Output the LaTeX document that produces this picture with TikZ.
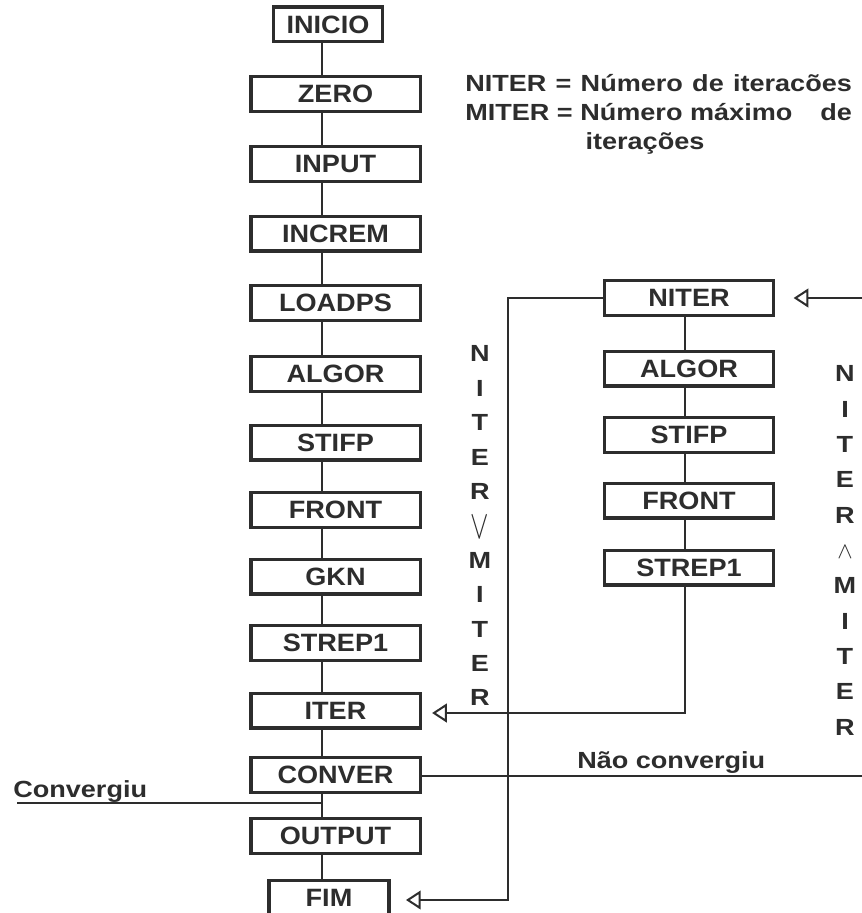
\documentclass[tikz,border=0pt]{standalone}
\usepackage{fontspec}
\usepackage{graphicx}
\newfontfamily\dfont{Liberation Sans}[FakeStretch=1.08]
\newfontfamily\lfont{Liberation Sans}[FakeStretch=1.16]
\usetikzlibrary{arrows.meta}
\definecolor{ink}{RGB}{45,45,45}
\newcommand{\orsym}{\raisebox{-3.8pt}{\scalebox{1.2}[1.75]{$\vee$}}}
\newcommand{\andsym}{$\wedge$}
\begin{document}
\begin{tikzpicture}[x=0.75pt,y=-0.75pt,
  box/.style={draw=ink, line width=2.5pt, minimum width=127pt, minimum height=26pt,
    inner sep=0pt, text=ink, font=\dfont\bfseries\fontsize{18.8}{20}\selectfont},
  conn/.style={draw=ink, line width=1.5pt},
  tip/.style={-{Triangle[open, length=11pt, width=14pt, line width=1.5pt]}},
  lbl/.style={text=ink, font=\lfont\bfseries\fontsize{17.5}{20}\selectfont, inner sep=0pt},
  vl/.style={lbl, text height=12.5pt, text depth=0pt, anchor=center}
]
\useasboundingbox (0,0) rectangle (862,913);
\fill[white] (0,0) rectangle (862,913);

% guide coordinates
\coordinate (lx) at (322,0);
\coordinate (rx) at (685,0);

% left column
\node[box, minimum width=82pt] (inicio) at (328,24.5) {INICIO};
\node[box] (zero)   at (335.5,94)  {ZERO};
\node[box] (input)  at (335.5,164) {INPUT};
\node[box] (increm) at (335.5,233.5) {INCREM};
\node[box] (loadps) at (335.5,303) {LOADPS};
\node[box] (algor)  at (335.5,374) {ALGOR};
\node[box] (stifp)  at (335.5,442.5) {STIFP};
\node[box] (front)  at (335.5,510) {FRONT};
\node[box] (gkn)    at (335.5,576.5) {GKN};
\node[box] (strep)  at (335.5,643) {STREP1};
\node[box] (iter)   at (335.5,710.5) {ITER};
\node[box] (conver) at (335.5,775) {CONVER};
\node[box] (output) at (335.5,836) {OUTPUT};
\node[box, minimum width=90pt] (fim) at (329,898) {FIM};

% right column
\node[box] (niter)  at (689,298) {NITER};
\node[box] (ralgor) at (689,368.5) {ALGOR};
\node[box] (rstifp) at (689,435) {STIFP};
\node[box] (rfront) at (689,500.5) {FRONT};
\node[box] (rstrep) at (689,567.5) {STREP1};

% left connectors
\foreach \a/\b in {inicio/zero, zero/input, input/increm, increm/loadps, loadps/algor,
  algor/stifp, stifp/front, front/gkn, gkn/strep, strep/iter, iter/conver,
  conver/output, output/fim}
  \draw[conn] (\a.south -| lx) -- (\b.north -| lx);

% right connectors
\foreach \a/\b in {niter/ralgor, ralgor/rstifp, rstifp/rfront, rfront/rstrep}
  \draw[conn] (\a.south -| rx) -- (\b.north -| rx);

% loop-back and exit paths
\coordinate (ka) at (508,298);
\coordinate (kb) at (508,900);
\draw[conn, tip, shorten >=11.5pt] (niter.west) -- (ka) -- (kb) -- (fim.east |- kb);

\coordinate (kc) at (685,713);
\draw[conn, tip, shorten >=7.7pt] (rstrep.south -| kc) -- (kc) -- (iter.east |- kc);

\coordinate (re1) at (862,776);
\draw[conn] (conver.east |- re1) -- (re1);

\coordinate (re2) at (862,298);
\draw[conn, tip, shorten >=13.7pt] (re2) -- (niter.east |- re2);

\coordinate (cl) at (17,803);
\draw[conn] (cl) -- (cl -| lx);

% labels
\node[lbl, anchor=base west] (conv) at (13,797) {Convergiu};
\node[lbl, anchor=base west] (nconv) at (577,768) {Não convergiu};

\node[lbl, anchor=base west] (h1) at (465,92) {\makebox[290pt][s]{NITER = Número de iteracões}};
\node[lbl, anchor=base west] (h2) at (465,121) {\makebox[290pt][s]{MITER = Número máximo\hfill de}};
\node[lbl, anchor=base] (h3) at (645,150) {iterações};

% vertical labels
\foreach \ch [count=\i] in {N,I,T,E,R,\orsym,M,I,T,E,R}
  \node[vl] (va\i) at (480, {353.5+34.4*(\i-1)}) {\ch};
\foreach \ch [count=\i] in {N,I,T,E,R,\andsym,M,I,T,E,R}
  \node[vl] (vb\i) at (845, {373.5+35.35*(\i-1)}) {\ch};
\end{tikzpicture}
\end{document}
